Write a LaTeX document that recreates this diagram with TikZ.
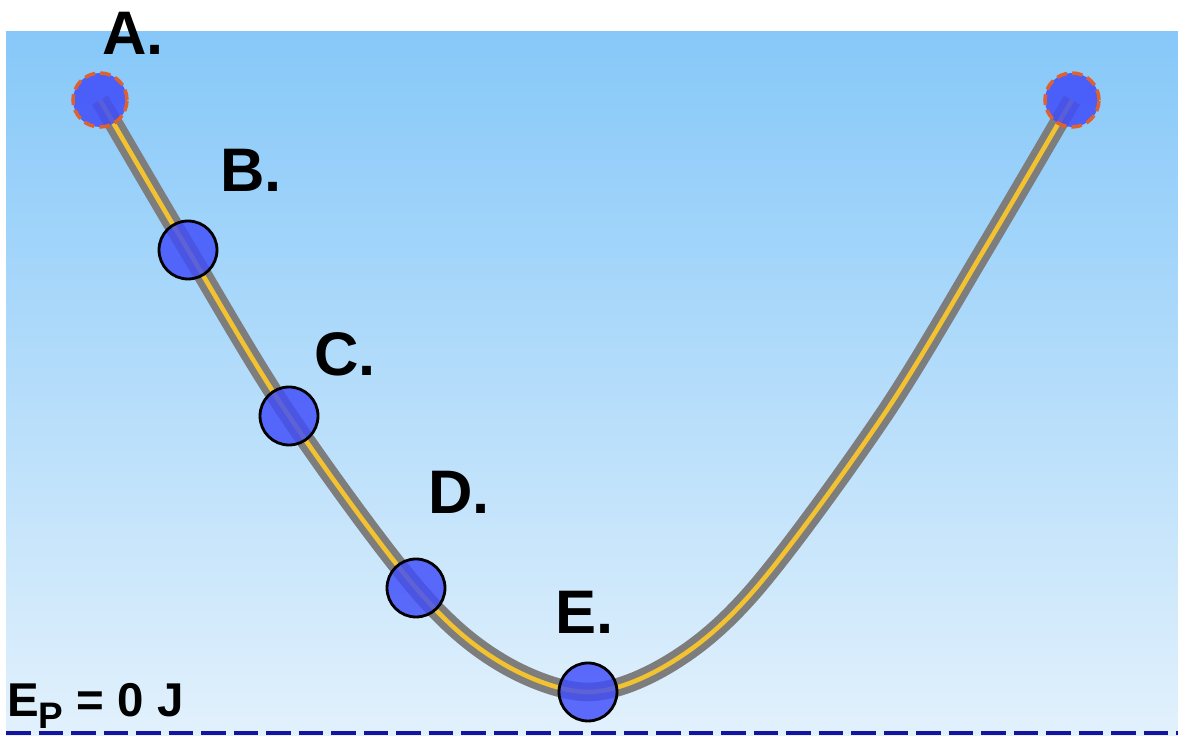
\documentclass[tikz,border=0pt]{standalone}
\usepackage{fontspec}
\setmainfont{Liberation Sans}
\begin{document}
\begin{tikzpicture}[x=0.02cm,y=-0.02cm,
  lbl/.style={font=\fontsize{35}{40}\selectfont\bfseries, inner sep=0pt, anchor=base},
  ball/.style={circle, draw=black, line width=1.6pt, fill=ballblue, fill opacity=0.82, minimum size=1.16cm, inner sep=0pt},
  endball/.style={circle, draw=endorange, dashed, dash pattern=on 6pt off 3pt, line width=2pt, fill=ballblue, fill opacity=0.85, minimum size=1.08cm, inner sep=0pt},
  track/.style={line width=10.5pt, draw=trackgray},
  core/.style={line width=2.6pt, draw=trackyellow}]
\definecolor{skytop}{HTML}{86C8F9}
\definecolor{skybot}{HTML}{E2F1FC}
\definecolor{ballblue}{HTML}{3F4DFA}
\definecolor{endorange}{HTML}{E0602E}
\definecolor{trackgray}{HTML}{7D7D7D}
\definecolor{trackyellow}{HTML}{F2C230}
\definecolor{groundblue}{HTML}{1414A0}
\useasboundingbox (0,0) rectangle (1178,736);
\fill[white] (0,0) rectangle (1178,736);
\shade[top color=skytop, bottom color=skybot] (6,32) rectangle (1178,736);
% track
\coordinate (pA) at (100,100);
\coordinate (pB) at (188,250);
\coordinate (pC) at (289,416);
\coordinate (pD) at (416,588);
\coordinate (pE) at (588,692);
\coordinate (pR) at (1072,100);
\def\trackpath{plot[smooth, tension=0.55] coordinates {(100,100) (188,250) (289,416) (416,588) (500,662) (588,692) (672,662) (756,588) (883,416) (984,250) (1072,100)}}
\draw[track, line cap=butt] \trackpath;
\draw[core] \trackpath;
% balls
\node[endball] (A) at (pA) {};
\node[endball] (R) at (pR) {};
\node[ball] (B) at (pB) {};
\node[ball] (C) at (pC) {};
\node[ball] (D) at (pD) {};
\node[ball] (E) at (pE) {};
% labels
\node[lbl] (lA) at (133,55) {A.};
\node[lbl] (lB) at (251,192) {B.};
\node[lbl] (lC) at (345,376) {C.};
\node[lbl] (lD) at (459,514) {D.};
\node[lbl] (lE) at (585,634) {E.};
\node[font=\fontsize{27}{30}\selectfont\bfseries, inner sep=0pt, anchor=base west] (ep) at (7,717) {E\raisebox{-0.45ex}{\fontsize{21}{22}\selectfont P} = 0 J};
% ground
\coordinate (g1) at (6,733);
\coordinate (g2) at (1178,733);
\draw[groundblue, line width=2.2pt, dash pattern=on 14pt off 4.5pt] (g1) -- (g2);
\end{tikzpicture}
\end{document}
